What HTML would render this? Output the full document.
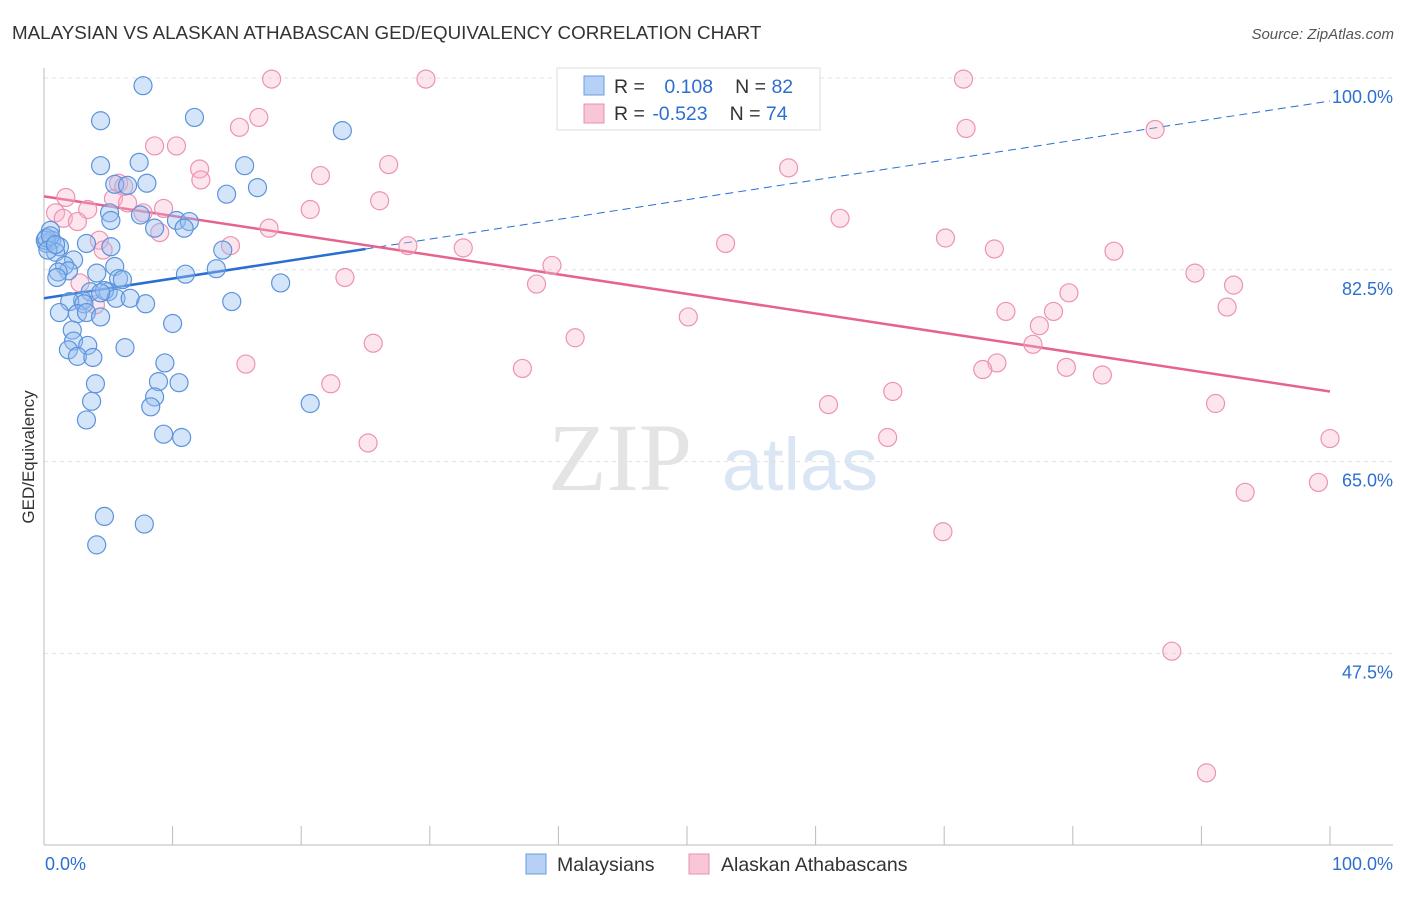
<!DOCTYPE html>
<html><head><meta charset="utf-8"><style>
body{margin:0;background:#fff;font-family:"Liberation Sans",sans-serif;}
</style></head><body>
<svg width="1406" height="892" xmlns="http://www.w3.org/2000/svg" id="chart" style="font-family:'Liberation Sans',sans-serif">
<text x="12" y="39" font-size="18.8" fill="#333">MALAYSIAN VS ALASKAN ATHABASCAN GED/EQUIVALENCY CORRELATION CHART</text>
<text x="1394" y="39" font-size="15" fill="#555" text-anchor="end" font-style="italic">Source: ZipAtlas.com</text>
<text x="620" y="490" font-size="96" fill="#e4e4e4" font-family="Liberation Serif" text-anchor="middle">ZIP</text>
<text x="800" y="490" font-size="74" fill="#dbe6f5" text-anchor="middle">atlas</text>
<text transform="translate(34,457) rotate(-90)" font-size="17" fill="#333" text-anchor="middle">GED/Equivalency</text>
<g id="grid"></g><g id="axes"></g><g id="trend"></g><g id="pts"></g>
<g>
<rect x="557" y="68" width="263" height="62" fill="#fff" stroke="#ddd"/>
<rect x="584" y="76" width="20" height="19" fill="#b6d1f5" stroke="#6a9de0"/>
<text x="614" y="93" font-size="19.5" fill="#333">R = <tspan fill="#2d6fd1" dx="14">0.108</tspan><tspan dx="22">N = </tspan><tspan fill="#2d6fd1">82</tspan></text>
<rect x="584" y="104" width="20" height="19" fill="#f9c6d6" stroke="#e890ad"/>
<text x="614" y="120" font-size="19.5" fill="#333">R = <tspan fill="#2d6fd1" dx="2">-0.523</tspan><tspan dx="22">N = </tspan><tspan fill="#2d6fd1">74</tspan></text>
</g>
<g>
<rect x="526" y="854" width="20" height="20" fill="#b6d1f5" stroke="#6a9de0"/>
<text x="557" y="871" font-size="19.5" fill="#333">Malaysians</text>
<rect x="689" y="854" width="20" height="20" fill="#f9c6d6" stroke="#e890ad"/>
<text x="721" y="871" font-size="19.5" fill="#333">Alaskan Athabascans</text>
</g>
<text x="45" y="870" font-size="18" fill="#2d6fd1">0.0%</text>
<text x="1393" y="870" font-size="18" fill="#2d6fd1" text-anchor="end">100.0%</text>
</svg>
<script>
const yTicks=[100,82.5,65,47.5];
const yTickLabels=["100.0%","82.5%","65.0%","47.5%"];
const blueX=[7.7,4.4,11.7,23.2,4.4,7.4,15.6,5.5,8.0,6.5,14.2,16.6,5.1,7.5,5.2,10.3,11.3,10.9,8.6,0.5,0.6,0.2,1.2,3.3,5.2,0.9,13.9,2.3,1.6,4.1,1.9,1.1,5.5,11.0,13.4,18.4,1.0,5.8,6.1,5.0,3.6,3.0,2.0,3.1,4.7,5.6,6.7,7.9,14.6,1.2,2.6,3.3,4.4,10.0,2.2,2.3,3.4,6.3,1.9,2.6,3.8,9.4,8.9,10.5,4.0,3.7,8.6,8.3,20.7,3.3,9.3,10.7,4.7,7.8,4.1,0.1,0.2,0.5,0.3,0.9,4.4];
const blueY=[99.3,96.1,96.4,95.2,92.0,92.3,92.0,90.3,90.4,90.2,89.4,90.0,87.7,87.5,87.0,87.0,86.9,86.3,86.3,86.1,85.2,84.9,84.6,84.9,84.6,84.1,84.3,83.4,82.9,82.2,82.4,82.3,82.8,82.1,82.6,81.3,81.8,81.7,81.6,80.5,80.5,79.7,79.6,79.4,80.6,79.9,79.9,79.4,79.6,78.6,78.5,78.6,78.2,77.6,77.0,76.0,75.6,75.4,75.2,74.6,74.5,74.0,72.3,72.2,72.1,70.5,70.9,70.0,70.3,68.8,67.5,67.2,60.0,59.3,57.4,85.2,85.4,85.6,84.3,84.8,80.4];
const pinkX=[17.7,29.7,71.5,16.7,15.2,71.7,86.4,8.6,10.3,12.1,57.9,26.8,12.2,21.5,5.8,1.7,6.2,5.4,6.5,26.1,3.4,20.7,9.3,0.9,7.7,1.5,2.6,61.9,17.5,9.0,14.5,4.3,28.3,32.6,53.0,70.1,73.9,83.2,4.6,39.5,23.4,89.5,92.5,38.3,2.8,79.7,4.0,74.8,78.5,92.0,50.1,77.4,41.3,25.6,76.9,15.7,74.1,73.0,79.5,37.2,82.3,22.3,66.0,61.0,91.1,65.6,25.2,100,93.4,99.1,69.9,87.7,90.4];
const pinkY=[99.9,99.9,99.9,96.4,95.5,95.4,95.3,93.8,93.8,91.7,91.8,92.1,90.7,91.1,90.4,89.1,90.1,89.0,88.6,88.8,88.0,88.0,88.1,87.7,87.7,87.2,86.9,87.2,86.3,85.9,84.7,85.2,84.7,84.5,84.9,85.4,84.4,84.2,84.3,82.9,81.8,82.2,81.1,81.2,81.3,80.4,79.3,78.7,78.7,79.1,78.2,77.4,76.3,75.8,75.7,73.9,74.0,73.4,73.6,73.5,72.9,72.1,71.4,70.2,70.3,67.2,66.7,67.1,62.2,63.1,58.6,47.7,36.6];
const blueTrend=[79.9,97.9];
const pinkTrend=[89.2,71.4];
const NS='http://www.w3.org/2000/svg';
const X=v=>44+v*12.86, Y=v=>78+(100-v)*10.96;
function mk(t,a,p){const e=document.createElementNS(NS,t);for(const k in a)e.setAttribute(k,a[k]);document.getElementById(p).appendChild(e);return e;}
yTicks.forEach((t,i)=>{
 const l=mk('line',{x1:44,x2:1393,y1:Y(t),y2:Y(t),stroke:'#e2e2e2','stroke-dasharray':'4,4'},'grid');
 
 
 const tx=mk('text',{x:1393,y:Y(t)+25,'font-size':18,fill:'#2d6fd1','text-anchor':'end'},'grid');
 tx.textContent=yTickLabels[i];
 
 
});
let a=mk('line',{x1:44,x2:44,y1:68,y2:845,stroke:'#bbb'},'axes');


a=mk('line',{x1:44,x2:1393,y1:845,y2:845,stroke:'#bbb'},'axes');


for(let i=0;i<=10;i++){const t=mk('line',{x1:X(i*10),x2:X(i*10),y1:826,y2:845,stroke:'#bbb'},'axes');
 
 }
function dot(x,y,f,s,n){const c=mk('circle',{cx:X(x),cy:Y(y),r:9,fill:f,stroke:s,'stroke-width':1.2},'pts');
 
 }
pinkX.forEach((x,i)=>dot(x,pinkY[i],'rgba(248,180,205,0.35)','#ec93b1','athabascan-point'));
blueX.forEach((x,i)=>dot(x,blueY[i],'rgba(150,190,240,0.4)','#5b93dc','malaysian-point'));
const bt=v=>blueTrend[0]+(blueTrend[1]-blueTrend[0])*v/100;
let t=mk('line',{x1:X(0),y1:Y(bt(0)),x2:X(25),y2:Y(bt(25)),stroke:'#2a6dd4','stroke-width':2.5},'trend');


t=mk('line',{x1:X(25),y1:Y(bt(25)),x2:X(100),y2:Y(bt(100)),stroke:'#2a6dd4','stroke-width':1,'stroke-dasharray':'8,5'},'trend');


t=mk('line',{x1:X(0),y1:Y(pinkTrend[0]),x2:X(100),y2:Y(pinkTrend[1]),stroke:'#e5638e','stroke-width':2.5},'trend');


</script>
</body></html>
